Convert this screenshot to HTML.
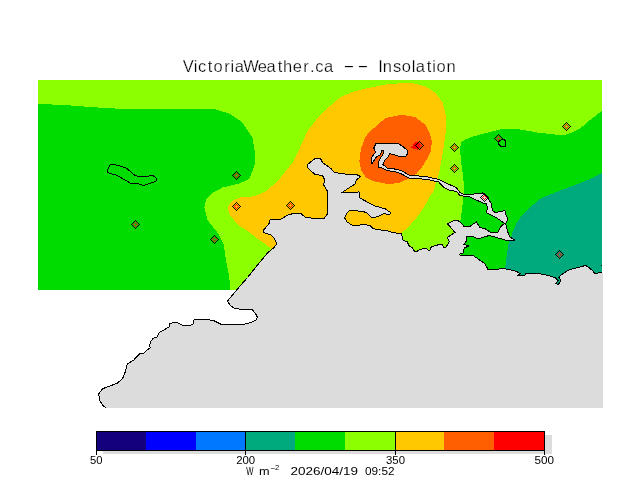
<!DOCTYPE html>
<html><head><meta charset="utf-8"><title>VictoriaWeather.ca -- Insolation</title>
<style>
html,body{margin:0;padding:0;background:#fff;}
body{width:640px;height:480px;overflow:hidden;}
svg{display:block;}
text{font-family:"Liberation Sans",sans-serif;fill:#000;}
.t1 text{stroke:#fff;stroke-width:0.25px;}
</style></head><body>
<svg width="640" height="480" viewBox="0 0 640 480" shape-rendering="crispEdges">
<rect x="0" y="0" width="640" height="480" fill="#fff"/>
<defs><clipPath id="plot"><rect x="38" y="80" width="564" height="210"/></clipPath><g id="mk"><path d="M-4 0h1v1h-1zM-3 -1h1v1h-1zM-3 1h1v1h-1zM-2 -2h1v1h-1zM-2 2h1v1h-1zM-1 -3h1v1h-1zM-1 3h1v1h-1zM0 -4h1v1h-1zM0 4h1v1h-1zM1 -3h1v1h-1zM1 3h1v1h-1zM2 -2h1v1h-1zM2 2h1v1h-1zM3 -1h1v1h-1zM3 1h1v1h-1zM4 0h1v1h-1z" fill="#000"/><path d="M-2 0h1v1h-1zM-1 -1h1v1h-1zM-1 1h1v1h-1zM0 -2h1v1h-1zM0 2h1v1h-1zM1 -1h1v1h-1zM1 1h1v1h-1zM2 0h1v1h-1z" fill="#FF0000"/></g></defs>
<g clip-path="url(#plot)">
<rect x="38" y="80" width="564" height="210" fill="#8CFF00"/>
<polygon fill="#00DC00" points="38,104 65,105 90,107 115,108.5 140,109.5 180,109.25 215,109.25 230,113.75 242.5,122.5 252.5,137.5 255,152.5 254.5,165 250,177.5 247.5,180 237.5,184 222.5,187.5 212.5,192.5 206,200 204.5,207.5 207.5,220 217.5,232.5 223.75,245 226,260 229.3,277.5 230.3,290 38,290"/>
<polygon fill="#00DC00" points="460.2,152 460.7,143 464.5,139.8 470,137.5 480,134.5 490,132 500,129.5 517.5,129 537.5,132.5 555,134.5 565,135 573,132 580,128.5 590,120 602,110.75 602,290 462,290 460,225 460.5,220 462,210 463,200 464,187.5 463,175 461.25,162.8"/>
<polygon fill="#00AA7D" points="602,173 587.5,180 572.5,186 555,192.5 540,198.75 530,207.5 521.25,216.25 516.25,223.75 512.5,232.5 511,237.5 508.75,242.5 507.5,250 506.25,258.75 505,268.75 504,290 602,290"/>
<polygon fill="#FFC800" points="271.25,248.75 265,243.75 257.5,238.75 250,232.5 240,226.25 235,221.25 230,215 227.75,208.75 229.4,203.75 233.75,200 240,197.5 250,197 257.5,195 267.5,190 278.75,180 292.5,162.5 300,147.5 307.5,131 320,115 330,106 340,97.5 352,92 365,88.75 390,83.75 412.5,83 425,86.25 435,92.5 442.5,102.5 446.25,117.5 446,130 443.75,146.4 442,157.3 440,168.3 438,177.5 436,182.5 433.75,191 430,195.6 428,200 423.75,207.5 418.75,215 411.25,223.75 405,230 401.25,233 401,260 271,260"/>
<polygon fill="#FF5F00" points="401,114.8 385,118.2 375,127.5 371,130 365,137.5 361,148.75 359.4,161 361,170 366,177.5 372.5,181 380,182.5 388.75,184.4 400,182.5 410,178 416.4,173.75 421.9,167.2 427.3,158.4 431.2,150.8 431.7,141 430,133.75 425,124.5 415,116.9"/>
<polygon fill="#FF0000" points="410.9,147.8 413,145 415,142.2 418.5,142.2 419.5,144 419.5,147.5 418,150 416,149.3 413.5,148.6"/>
</g>
<polygon fill="#DCDCDC" points="106,408 103,405.5 99.5,400 98.75,393.75 102.5,388.75 110,386 117.5,383 122.5,378.75 125,372.5 127.5,363.75 133.75,360 140,353.6 143.75,353.6 147,349.8 150.3,348 149.4,345.2 151.25,340.5 153.6,338.1 156.9,337.2 159.2,332.5 164.4,329.7 169,326.9 169.5,324 172.8,322.7 177.5,322.7 181.7,325 191,325 193.9,323.6 193,320.3 195.3,319.4 206,319.5 213.75,320.6 221.25,324.4 243.75,324.4 251.25,322.5 256.25,320 257.25,317 255.6,313.75 252.5,310 242.5,309.75 233.75,308 230,305 227.5,301.25 229.4,298.75 238.75,287.5 247.5,277.5 257.5,265 267.5,253 274,247.5 276.5,244.4 276.25,242.5 273.75,237.5 271.25,235 263.75,232.5 263.75,230 269.4,223 270,220 280,219.4 283.75,217.5 288.75,214.4 295,213.5 301.25,213.75 305,217 311.25,218 324.4,218 327.5,213.75 327,205 328,200 327.5,191.25 323.75,185 324.4,179.4 322.5,175.6 315,174.4 311,171 307.5,167.5 307.5,164.4 315,158.75 320.6,158.75 322.5,162.5 331.25,168.75 333.75,172 341.25,173.75 357.5,175 360.6,176.5 356.25,180 355.6,183.75 347.5,188.75 342.5,192.25 359,192 360,198 373.75,205.6 385,208.75 391.25,213 389.4,214.4 383.75,213.75 378.75,216.25 372,218 370,216.25 367,213 362.5,211.25 349.4,210.5 346.5,213.5 344.75,218 347,222 352.5,225.3 358,225.8 362,224.4 370,225.3 372.5,228 376.25,229.4 386.25,230.6 393.75,232.75 401.25,233.5 403,240 407.5,242 408.75,245.6 412.5,248 414.4,251.25 417,251.25 420,249.4 426.25,248 428,250 430,250 431.25,247 437.5,245 442,244.4 443.75,247.25 445.6,247.25 448,244.4 449.4,241.25 447.75,238.75 448,237 455,232.5 447.5,223.75 455,220 457,220 461.25,223 463.75,226.25 470,226.25 476.25,222 480,227.5 485,228.75 490,232 498,232 501.25,226 504.4,223.5 500,220 493.75,216.25 486.25,212.5 487.5,208 486.25,203.75 485,203.75 477.5,200.6 470,197 460,195.6 456.25,191.25 450,190.6 443.75,187.5 438.75,182 430,180 420,178.75 408.75,178 402.5,174.4 396.25,172 387.5,170.6 382,168 378.75,167.5 378,163 380,158.75 383,154.4 383.75,150.6 382,150.6 380,155 376.25,157 372.5,163 371.25,163 372,157 375.6,152 373.75,148 376.25,143 397,143 402.5,146.25 407,150 407.5,153.75 405.6,156.25 398.75,156.25 393.75,154.4 389.4,153.75 388,157 385,160 383,164.4 387,168 397.5,169.4 402.5,171.25 410,175.6 425,176.25 430,177.5 438.75,179.4 447.5,183.75 456.25,187.5 460,192.5 463.75,194.4 471.25,194.4 482.5,193 486.25,195.6 488.75,199.4 491.25,203.75 492.5,210.6 495,212.5 505,210.6 505.6,214.4 508,219.4 505.6,223.75 508,232.5 510,237 514.4,240 513,241 507,240.6 495,237 488.75,235.6 481.25,238 476.25,238 471.25,236 467,236.25 466.25,241.25 463.75,244.4 468.75,246 464.4,248 463,253 459.4,254.4 460,255 472.5,255 478.75,259.4 485,263.75 488,269.4 498.75,269.4 500,268.5 506.25,269 516.25,271.25 520,273.75 518,275.6 525,275.4 525.6,273.75 538.75,273.5 548.75,275.6 555,277.5 558,280.6 555.6,283.5 558,284.4 560,282.5 560.6,280 558.75,277 563.75,273 570,269.4 580,267 585.6,265.4 588.75,267.5 592.5,270.6 594.4,273 598,273 602,272.5 603,272.5 603,408"/>
<polyline fill="none" stroke="#000" stroke-width="1" points="106,408 103,405.5 99.5,400 98.75,393.75 102.5,388.75 110,386 117.5,383 122.5,378.75 125,372.5 127.5,363.75 133.75,360 140,353.6 143.75,353.6 147,349.8 150.3,348 149.4,345.2 151.25,340.5 153.6,338.1 156.9,337.2 159.2,332.5 164.4,329.7 169,326.9 169.5,324 172.8,322.7 177.5,322.7 181.7,325 191,325 193.9,323.6 193,320.3 195.3,319.4 206,319.5 213.75,320.6 221.25,324.4 243.75,324.4 251.25,322.5 256.25,320 257.25,317 255.6,313.75 252.5,310 242.5,309.75 233.75,308 230,305 227.5,301.25 229.4,298.75 238.75,287.5 247.5,277.5 257.5,265 267.5,253 274,247.5 276.5,244.4 276.25,242.5 273.75,237.5 271.25,235 263.75,232.5 263.75,230 269.4,223 270,220 280,219.4 283.75,217.5 288.75,214.4 295,213.5 301.25,213.75 305,217 311.25,218 324.4,218 327.5,213.75 327,205 328,200 327.5,191.25 323.75,185 324.4,179.4 322.5,175.6 315,174.4 311,171 307.5,167.5 307.5,164.4 315,158.75 320.6,158.75 322.5,162.5 331.25,168.75 333.75,172 341.25,173.75 357.5,175 360.6,176.5 356.25,180 355.6,183.75 347.5,188.75 342.5,192.25 359,192 360,198 373.75,205.6 385,208.75 391.25,213 389.4,214.4 383.75,213.75 378.75,216.25 372,218 370,216.25 367,213 362.5,211.25 349.4,210.5 346.5,213.5 344.75,218 347,222 352.5,225.3 358,225.8 362,224.4 370,225.3 372.5,228 376.25,229.4 386.25,230.6 393.75,232.75 401.25,233.5 403,240 407.5,242 408.75,245.6 412.5,248 414.4,251.25 417,251.25 420,249.4 426.25,248 428,250 430,250 431.25,247 437.5,245 442,244.4 443.75,247.25 445.6,247.25 448,244.4 449.4,241.25 447.75,238.75 448,237 455,232.5 447.5,223.75 455,220 457,220 461.25,223 463.75,226.25 470,226.25 476.25,222 480,227.5 485,228.75 490,232 498,232 501.25,226 504.4,223.5 500,220 493.75,216.25 486.25,212.5 487.5,208 486.25,203.75 485,203.75 477.5,200.6 470,197 460,195.6 456.25,191.25 450,190.6 443.75,187.5 438.75,182 430,180 420,178.75 408.75,178 402.5,174.4 396.25,172 387.5,170.6 382,168 378.75,167.5 378,163 380,158.75 383,154.4 383.75,150.6 382,150.6 380,155 376.25,157 372.5,163 371.25,163 372,157 375.6,152 373.75,148 376.25,143 397,143 402.5,146.25 407,150 407.5,153.75 405.6,156.25 398.75,156.25 393.75,154.4 389.4,153.75 388,157 385,160 383,164.4 387,168 397.5,169.4 402.5,171.25 410,175.6 425,176.25 430,177.5 438.75,179.4 447.5,183.75 456.25,187.5 460,192.5 463.75,194.4 471.25,194.4 482.5,193 486.25,195.6 488.75,199.4 491.25,203.75 492.5,210.6 495,212.5 505,210.6 505.6,214.4 508,219.4 505.6,223.75 508,232.5 510,237 514.4,240 513,241 507,240.6 495,237 488.75,235.6 481.25,238 476.25,238 471.25,236 467,236.25 466.25,241.25 463.75,244.4 468.75,246 464.4,248 463,253 459.4,254.4 460,255 472.5,255 478.75,259.4 485,263.75 488,269.4 498.75,269.4 500,268.5 506.25,269 516.25,271.25 520,273.75 518,275.6 525,275.4 525.6,273.75 538.75,273.5 548.75,275.6 555,277.5 558,280.6 555.6,283.5 558,284.4 560,282.5 560.6,280 558.75,277 563.75,273 570,269.4 580,267 585.6,265.4 588.75,267.5 592.5,270.6 594.4,273 598,273 602,272.5"/>
<rect x="601" y="265" width="1" height="1" fill="#000"/>
<polygon fill="none" stroke="#000" stroke-width="1" points="112.5,164.4 118.75,165.6 126.25,168 130,171.25 134.4,175 137.5,176.25 148.75,176.25 150,175 153,175.6 156.25,178 157,180.6 152.5,182.5 145,185 143,185.25 138.75,184 131.25,183.5 125,180 115,174.4 110,173.75 107.5,172 108,168.75 110,165"/>
<polygon fill="none" stroke="#000" stroke-width="1" points="500.6,140 504.4,139.7 505.6,141.5 505.5,146.25 501.25,146.5 499.4,145.3 498.4,143 497.8,142"/>
<use href="#mk" x="135" y="224"/>
<use href="#mk" x="236" y="175"/>
<use href="#mk" x="236" y="206"/>
<use href="#mk" x="290" y="205"/>
<use href="#mk" x="214" y="239"/>
<use href="#mk" x="419" y="145"/>
<use href="#mk" x="454" y="147"/>
<use href="#mk" x="454" y="168"/>
<use href="#mk" x="498" y="138"/>
<use href="#mk" x="566" y="126"/>
<use href="#mk" x="484" y="197"/>
<use href="#mk" x="559" y="254"/>
<rect x="103" y="435" width="449" height="19" fill="#DCDCDC"/>
<rect x="96.00" y="431" width="49.78" height="20" fill="#14007D"/>
<rect x="145.78" y="431" width="49.78" height="20" fill="#0000FF"/>
<rect x="195.56" y="431" width="49.78" height="20" fill="#0078FF"/>
<rect x="245.33" y="431" width="49.78" height="20" fill="#00AA7D"/>
<rect x="295.11" y="431" width="49.78" height="20" fill="#00DC00"/>
<rect x="344.89" y="431" width="49.78" height="20" fill="#8CFF00"/>
<rect x="394.67" y="431" width="49.78" height="20" fill="#FFC800"/>
<rect x="444.44" y="431" width="49.78" height="20" fill="#FF5F00"/>
<rect x="494.22" y="431" width="49.78" height="20" fill="#FF0000"/>
<rect x="96.5" y="431.5" width="448" height="19" fill="none" stroke="#000" stroke-width="1"/>
<rect x="96" y="431" width="1" height="24" fill="#000"/>
<rect x="245" y="431" width="1" height="24" fill="#000"/>
<rect x="395" y="431" width="1" height="24" fill="#000"/>
<rect x="544" y="431" width="1" height="24" fill="#000"/>
<g shape-rendering="auto">
<g class="t1"><text y="71.6" font-size="16.5" x="182.86 193.80 198.02 207.73 213.59 224.13 230.60 234.80 243.19 257.64 266.45 277.83 283.08 292.74 303.13 310.06 315.25 323.95">VictoriaWeather.ca</text>
<text x="343.3" y="71.2" font-size="16.5" textLength="11.4" lengthAdjust="spacingAndGlyphs" text-anchor="start">-</text>
<text x="357.3" y="71.2" font-size="16.5" textLength="11.4" lengthAdjust="spacingAndGlyphs" text-anchor="start">-</text>
<text y="71.6" font-size="16.5" x="378.26 382.86 392.90 401.74 411.80 415.78 426.63 432.15 436.39 446.46">Insolation</text>
</g><text x="90" y="464.3" font-size="11.5" textLength="12.5" lengthAdjust="spacingAndGlyphs" text-anchor="start">50</text>
<text x="236.2" y="464.3" font-size="11.5" textLength="19" lengthAdjust="spacingAndGlyphs" text-anchor="start">200</text>
<text x="386" y="464.3" font-size="11.5" textLength="19" lengthAdjust="spacingAndGlyphs" text-anchor="start">350</text>
<text x="534.5" y="464.3" font-size="11.5" textLength="19.5" lengthAdjust="spacingAndGlyphs" text-anchor="start">500</text>
<text x="246.3" y="475.1" font-size="11.5" textLength="7.2" lengthAdjust="spacingAndGlyphs" text-anchor="start">W</text>
<text x="259" y="475.1" font-size="11.5" textLength="10.6" lengthAdjust="spacingAndGlyphs" text-anchor="start">m</text>
<text x="270.2" y="469.6" font-size="7.5" textLength="5.2" lengthAdjust="spacingAndGlyphs" text-anchor="start">-</text>
<text x="275" y="469.9" font-size="7.5" textLength="4.2" lengthAdjust="spacingAndGlyphs" text-anchor="start">2</text>
<text x="290.5" y="475.3" font-size="11.5" textLength="67.5" lengthAdjust="spacingAndGlyphs" text-anchor="start">2026/04/19</text>
<text x="365" y="475.3" font-size="11.5" textLength="29.5" lengthAdjust="spacingAndGlyphs" text-anchor="start">09:52</text>
</g>
</svg></body></html>
